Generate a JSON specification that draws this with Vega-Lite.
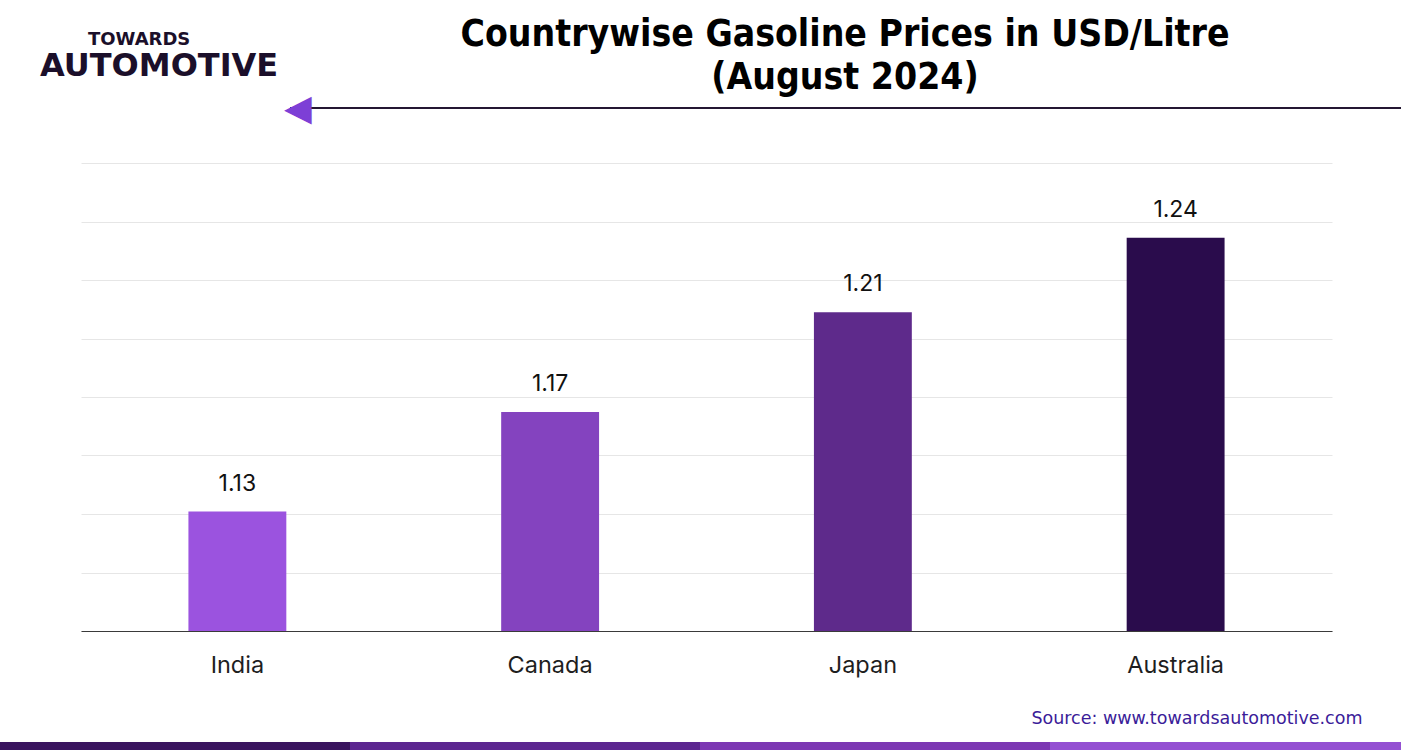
{
  "$schema": "https://vega.github.io/schema/vega-lite/v6.json",
  "autosize": {"type": "none"},
  "width": 1251,
  "height": 468,
  "padding": {"left": 81, "top": 163, "right": 69, "bottom": 119},
  "background": "#ffffff",
  "title": {
    "text": ["Countrywise Gasoline Prices in USD/Litre", "(August 2024)"],
    "anchor": "middle",
    "frame": "group",
    "dx": 138.5,
    "font": "Liberation Sans Narrow, DejaVu Sans Condensed, Roboto",
    "fontSize": 37,
    "fontWeight": "bold",
    "color": "#000000",
    "lineHeight": 43,
    "offset": -320
  },
  "data": {
    "values": [
      {"country": "India", "price": 1.13},
      {"country": "Canada", "price": 1.17},
      {"country": "Japan", "price": 1.21},
      {"country": "Australia", "price": 1.24}
    ]
  },
  "layer": [
    {
      "mark": {"type": "bar", "clip": true},
      "encoding": {
        "x": {
          "field": "country", "type": "nominal", "sort": null,
          "scale": {"paddingInner": 0.687, "paddingOuter": 0.3435},
          "axis": {
            "orient": "bottom", "domain": true, "domainColor": "#3a3a3a", "domainWidth": 1.2,
            "ticks": false, "tickSize": 0, "grid": false,
            "labelFont": "Inter", "labelFontSize": 23.5, "labelColor": "#1e1e1e",
            "labelPadding": 41, "labelBaseline": "alphabetic", "labelAngle": 0,
            "title": "Source: www.towardsautomotive.com",
            "titleX": 1281, "titleY": 92, "titleAlign": "right", "titleBaseline": "alphabetic",
            "titleFont": "DejaVu Sans", "titleFontSize": 17.5, "titleFontWeight": "normal", "titleColor": "#3b1c99"
          }
        },
        "y": {
          "field": "price", "type": "quantitative",
          "scale": {"domain": [1.082, 1.27], "zero": false, "nice": false},
          "axis": {
            "orient": "left",
            "values": [1.082, 1.1055, 1.129, 1.1525, 1.176, 1.1995, 1.223, 1.2465, 1.27],
            "grid": true, "gridColor": "#e6e6e6", "gridWidth": 1,
            "domain": false, "ticks": false, "labels": false,
            "title": "AUTOMOTIVE", "titleAngle": 0, "titleX": -41.5, "titleY": -87.5,
            "titleAlign": "left", "titleBaseline": "alphabetic",
            "titleFont": "DejaVu Sans", "titleFontWeight": "bold", "titleFontSize": 32, "titleColor": "#1b0f2a"
          }
        },
        "color": {
          "field": "country", "type": "nominal", "sort": null,
          "scale": {"domain": ["India", "Canada", "Japan", "Australia"], "range": ["#9b53df", "#8443bf", "#5e2a8b", "#2a0c4c"]},
          "legend": null
        }
      }
    },
    {
      "mark": {"type": "text", "baseline": "alphabetic", "dy": -21, "font": "Inter", "fontSize": 23, "color": "#111111"},
      "encoding": {
        "x": {"field": "country", "type": "nominal", "sort": null, "axis": null},
        "y": {
          "field": "price", "type": "quantitative",
          "axis": {
            "orient": "left",
            "values": [1.082, 1.1055, 1.129, 1.1525, 1.176, 1.1995, 1.223, 1.2465, 1.27],
            "grid": true, "gridColor": "#e6e6e6", "gridWidth": 1,
            "domain": false, "ticks": false, "labels": false,
            "title": "AUTOMOTIVE", "titleAngle": 0, "titleX": -41.5, "titleY": -87.5,
            "titleAlign": "left", "titleBaseline": "alphabetic",
            "titleFont": "DejaVu Sans", "titleFontWeight": "bold", "titleFontSize": 32, "titleColor": "#1b0f2a"
          }
        },
        "text": {"field": "price", "type": "quantitative", "format": ".2f"}
      }
    },
    {
      "mark": {"type": "text", "text": "", "opacity": 0},
      "encoding": {
        "x": {
          "field": "country", "type": "nominal", "sort": null,
          "axis": {
            "orient": "top", "translate": 209, "offset": 264,
            "domain": true, "domainColor": "#241733", "domainWidth": 2,
            "ticks": false, "labels": false, "grid": false,
            "title": "◀", "titleX": -6, "titleY": 1, "titleAlign": "left", "titleBaseline": "middle",
            "titleFont": "DejaVu Sans", "titleFontSize": 36, "titleFontWeight": "normal", "titleColor": "#7d3fd6"
          }
        }
      }
    },
    {
      "mark": {"type": "text", "text": "", "opacity": 0},
      "encoding": {
        "x": {
          "field": "country", "type": "nominal", "sort": null,
          "axis": {
            "orient": "bottom", "translate": -81, "offset": 196,
            "domain": true, "domainColor": "#3a145f", "domainWidth": 8, "domainCap": "butt",
            "ticks": false, "labels": false, "grid": false,
            "title": "TOWARDS", "titleX": 88, "titleY": -701, "titleAlign": "left", "titleBaseline": "alphabetic",
            "titleFont": "DejaVu Sans", "titleFontWeight": "bold", "titleFontSize": 18, "titleColor": "#1b0f2a"
          }
        }
      }
    },
    {
      "mark": {"type": "text", "text": "", "opacity": 0},
      "encoding": {
        "x": {
          "field": "country", "type": "nominal", "sort": null,
          "axis": {
            "orient": "bottom", "translate": 269, "offset": -154,
            "domain": true, "domainColor": "#5c2690", "domainWidth": 8, "domainCap": "butt",
            "ticks": false, "labels": false, "grid": false, "title": null
          }
        }
      }
    },
    {
      "mark": {"type": "text", "text": "", "opacity": 0},
      "encoding": {
        "x": {
          "field": "country", "type": "nominal", "sort": null,
          "axis": {
            "orient": "bottom", "translate": 619, "offset": -504,
            "domain": true, "domainColor": "#7c37b3", "domainWidth": 8, "domainCap": "butt",
            "ticks": false, "labels": false, "grid": false, "title": null
          }
        }
      }
    },
    {
      "mark": {"type": "text", "text": "", "opacity": 0},
      "encoding": {
        "x": {
          "field": "country", "type": "nominal", "sort": null,
          "axis": {
            "orient": "bottom", "translate": 969, "offset": -854,
            "domain": true, "domainColor": "#9450d2", "domainWidth": 8, "domainCap": "butt",
            "ticks": false, "labels": false, "grid": false, "title": null
          }
        }
      }
    }
  ],
  "resolve": {"axis": {"x": "independent"}},
  "config": {
    "view": {"stroke": null}
  }
}
